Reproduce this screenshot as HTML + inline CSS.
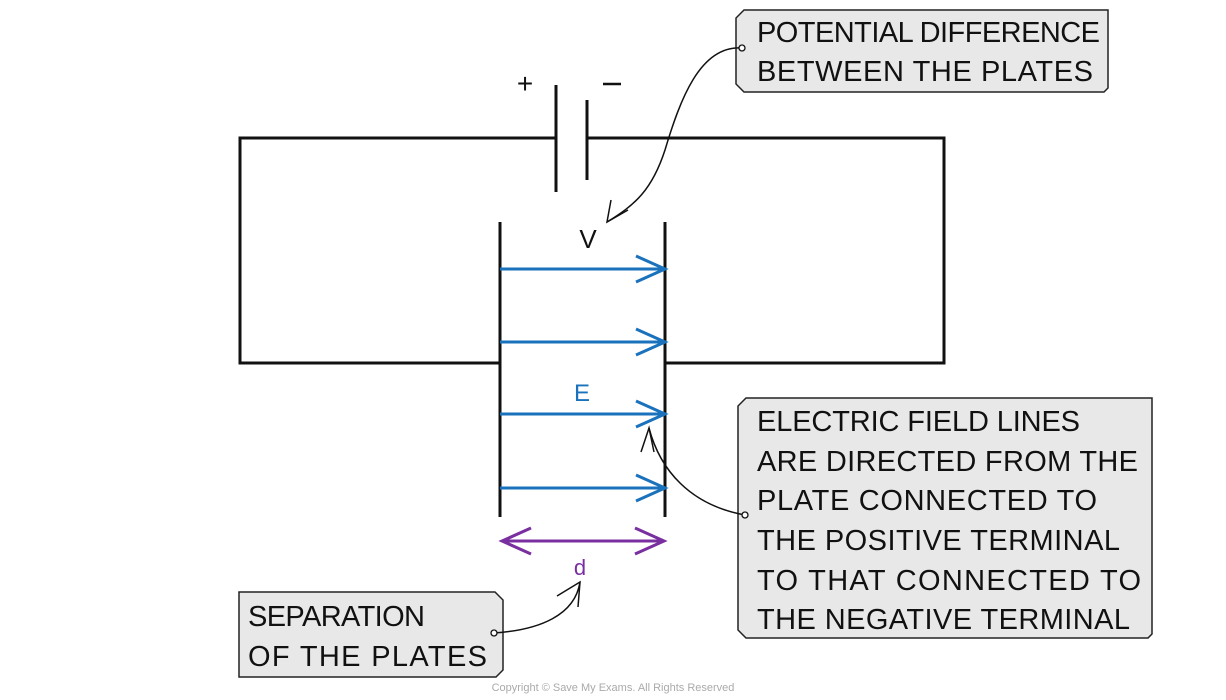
<!DOCTYPE html>
<html><head><style>
html,body{margin:0;padding:0;background:#fff;}
svg{display:block;}
text{font-family:"Liberation Sans",sans-serif;}
</style></head><body>
<svg width="1226" height="700" viewBox="0 0 1226 700" xmlns="http://www.w3.org/2000/svg">
<g stroke="#111" stroke-width="3" fill="none">
<polyline points="556,138 240,138 240,363 500,363"/>
<polyline points="587,138 944,138 944,363 665,363"/>
<line x1="556" y1="85" x2="556" y2="192"/>
<line x1="587" y1="100" x2="587" y2="180"/>
<line x1="500" y1="222" x2="500" y2="517"/>
<line x1="665" y1="222" x2="665" y2="517"/>
</g>
<text x="525" y="93" font-size="28" text-anchor="middle" fill="#111">+</text>
<line x1="603" y1="84" x2="621" y2="84" stroke="#111" stroke-width="2.5"/>
<g stroke="#1a72bd" stroke-width="3" fill="none">
<line x1="500" y1="269" x2="665" y2="269"/><polyline points="636,256 665,269 636,282"/>
<line x1="500" y1="342" x2="665" y2="342"/><polyline points="636,329 665,342 636,355"/>
<line x1="500" y1="414" x2="665" y2="414"/><polyline points="636,401 665,414 636,427"/>
<line x1="500" y1="488" x2="665" y2="488"/><polyline points="636,475 665,488 636,501"/>
</g>
<text x="582" y="401" font-size="24" text-anchor="middle" fill="#1a72bd">E</text>
<text x="588" y="248" font-size="26" text-anchor="middle" fill="#111">V</text>
<g stroke="#7a2fa0" stroke-width="3" fill="none">
<line x1="502" y1="541" x2="664" y2="541"/>
<polyline points="531,528 502,541 531,554"/>
<polyline points="635,528 664,541 635,554"/>
</g>
<text x="580" y="575" font-size="22" text-anchor="middle" fill="#7a2fa0">d</text>
<g fill="#e8e8e8" stroke="#222" stroke-width="1.5">
<path d="M744,10 H1108 V88 L1104,92 H744 L736,84 V18 Z"/>
<path d="M746,398 H1152 V634 L1148,638 H746 L738,630 V406 Z"/>
<path d="M239,592 H495 L503,600 V670 L496,677 H239 Z"/>
</g>
<g font-size="29" fill="#111">
<text x="757" y="42" textLength="343" lengthAdjust="spacing">POTENTIAL DIFFERENCE</text>
<text x="757" y="81" textLength="336" lengthAdjust="spacing">BETWEEN THE PLATES</text>
<text x="757" y="431" textLength="323" lengthAdjust="spacing">ELECTRIC FIELD LINES</text>
<text x="757" y="471" textLength="381" lengthAdjust="spacing">ARE DIRECTED FROM THE</text>
<text x="757" y="510" textLength="340" lengthAdjust="spacing">PLATE CONNECTED TO</text>
<text x="757" y="550" textLength="363" lengthAdjust="spacing">THE POSITIVE TERMINAL</text>
<text x="757" y="590" textLength="384" lengthAdjust="spacing">TO THAT CONNECTED TO</text>
<text x="757" y="629" textLength="373" lengthAdjust="spacing">THE NEGATIVE TERMINAL</text>
<text x="248" y="626" textLength="177" lengthAdjust="spacing">SEPARATION</text>
<text x="248" y="666" textLength="239" lengthAdjust="spacing">OF THE PLATES</text>
</g>
<g stroke="#111" stroke-width="1.5" fill="none">
<path d="M742,48 C700,45 680,100 665,150 C652,190 635,205 607,222"/>
<polyline points="611,200 607,222 628,210"/>
<path d="M745,515 C690,505 660,470 649,428"/>
<polyline points="641,452 649,428 654,452"/>
<path d="M494,633 C540,630 575,615 580,582"/>
<polyline points="557,596 580,582 578,607"/>
</g>
<g fill="#fff" stroke="#111" stroke-width="1.3">
<circle cx="742" cy="48" r="3"/>
<circle cx="745" cy="515" r="3"/>
<circle cx="494" cy="633" r="3"/>
</g>
<text x="613" y="691" font-size="11" text-anchor="middle" fill="#aaa">Copyright © Save My Exams. All Rights Reserved</text>
</svg>
</body></html>
